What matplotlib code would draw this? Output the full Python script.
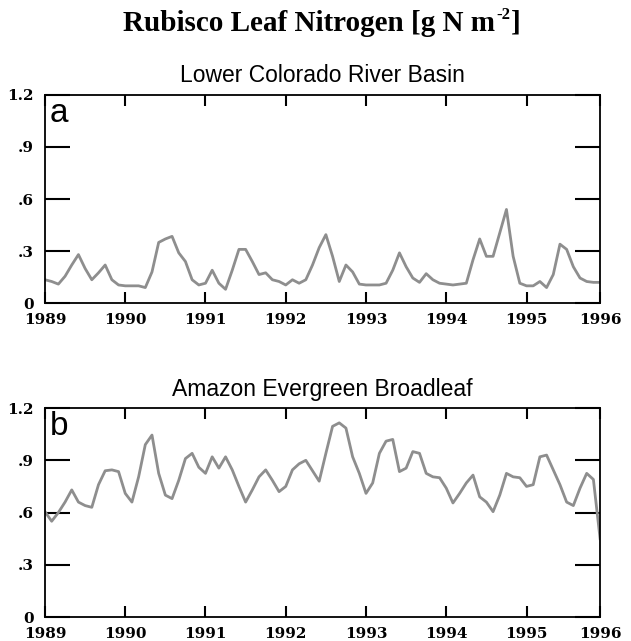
import matplotlib
matplotlib.use('Agg')
import matplotlib.pyplot as plt
import numpy as np

# monthly values, Jan 1989 .. Dec 1995
colorado = [0.135, 0.125, 0.11, 0.155, 0.22, 0.28, 0.2, 0.135, 0.175, 0.22, 0.135, 0.105,
            0.10, 0.10, 0.10, 0.09, 0.18, 0.35, 0.37, 0.385, 0.29, 0.24, 0.135, 0.105,
            0.115, 0.19, 0.115, 0.08, 0.19, 0.31, 0.31, 0.24, 0.165, 0.175, 0.135, 0.125,
            0.105, 0.135, 0.115, 0.135, 0.22, 0.32, 0.395, 0.27, 0.125, 0.22, 0.18, 0.11,
            0.105, 0.105, 0.105, 0.115, 0.19, 0.29, 0.21, 0.145, 0.12, 0.17, 0.135, 0.115,
            0.11, 0.105, 0.11, 0.115, 0.25, 0.37, 0.27, 0.27, 0.405, 0.54, 0.27, 0.115,
            0.10, 0.10, 0.125, 0.09, 0.165, 0.34, 0.31, 0.21, 0.145, 0.125, 0.12, 0.12]

amazon = [0.605, 0.55, 0.6, 0.66, 0.73, 0.66, 0.64, 0.63, 0.76, 0.84, 0.845, 0.835,
          0.71, 0.66, 0.805, 0.99, 1.045, 0.825, 0.70, 0.68, 0.785, 0.91, 0.94, 0.86,
          0.825, 0.92, 0.855, 0.92, 0.845, 0.75, 0.66, 0.73, 0.805, 0.845, 0.785, 0.72,
          0.75, 0.845, 0.88, 0.9, 0.84, 0.78, 0.94, 1.095, 1.115, 1.085, 0.92, 0.825,
          0.71, 0.77, 0.94, 1.01, 1.02, 0.835, 0.855, 0.95, 0.94, 0.825, 0.805, 0.80,
          0.74, 0.655, 0.71, 0.77, 0.815, 0.69, 0.66, 0.605, 0.70, 0.825, 0.805, 0.80,
          0.75, 0.76, 0.92, 0.93, 0.845, 0.76, 0.66, 0.64, 0.74, 0.825, 0.79, 0.45]

year_labels = ['1989', '1990', '1991', '1992', '1993', '1994', '1995', '1996']
y_ticks = [0, 0.3, 0.6, 0.9, 1.2]
y_labels = ['0', '.3', '.6', '.9', '1.2']

panels = [('Lower Colorado River Basin', 'a', colorado),
          ('Amazon Evergreen Broadleaf', 'b', amazon)]

fig = plt.figure(figsize=(6.31, 6.41), dpi=100)

# main title built from pieces so the superscript stays small
title_font = dict(fontsize=21, fontweight='bold', family='Liberation Serif')
renderer = fig.canvas.get_renderer()
ty = 0.952
t1 = fig.text(0, ty, 'Rubisco Leaf Nitrogen [g N m', ha='left', va='baseline', **title_font)
t2 = fig.text(0, ty + 0.018, '-2', ha='left', va='baseline', fontsize=12,
              fontweight='bold', family='Liberation Serif')
t3 = fig.text(0, ty, ']', ha='left', va='baseline', **title_font)
W = fig.bbox.width
w1 = t1.get_window_extent(renderer).width / W
w2 = t2.get_window_extent(renderer).width / W
w3 = t3.get_window_extent(renderer).width / W
x0 = 0.509 - (w1 + w2 + w3) / 2
t1.set_x(x0)
t2.set_x(x0 + w1 + 0.001)
t3.set_x(x0 + w1 + w2 + 0.002)

boxes = [[0.0713, 0.527, 0.8797, 0.325], [0.0713, 0.0374, 0.8797, 0.326]]
tick_font = {'family': 'DejaVu Serif', 'weight': 'bold', 'size': 11}

for (title, letter, vals), box in zip(panels, boxes):
    ax = fig.add_axes(box)
    months = np.arange(len(vals))
    ax.plot(months, vals, color='#8e8e8e', lw=2.0)
    ax.set_xlim(0, len(vals) - 1)
    ax.set_ylim(0, 1.2)
    xt = list(range(0, len(vals), 12)) + [len(vals) - 1]
    ax.set_xticks(xt)
    ax.set_xticklabels(year_labels, fontdict=tick_font)
    ax.set_yticks(y_ticks)
    ax.set_yticklabels(y_labels, fontdict=tick_font)
    ax.tick_params(axis='x', direction='in', length=8, width=1.5, top=True, pad=7)
    ax.tick_params(axis='y', direction='in', length=18, width=1.5, right=True, pad=8)
    for s in ax.spines.values():
        s.set_linewidth(1.3)
    ax.set_title(title, fontsize=16.5, family='Liberation Sans', pad=9)
    ax.text(0.008, 0.985, letter, transform=ax.transAxes, ha='left', va='top',
            fontsize=24, family='Liberation Sans')

fig.savefig('out.png', dpi=100)
